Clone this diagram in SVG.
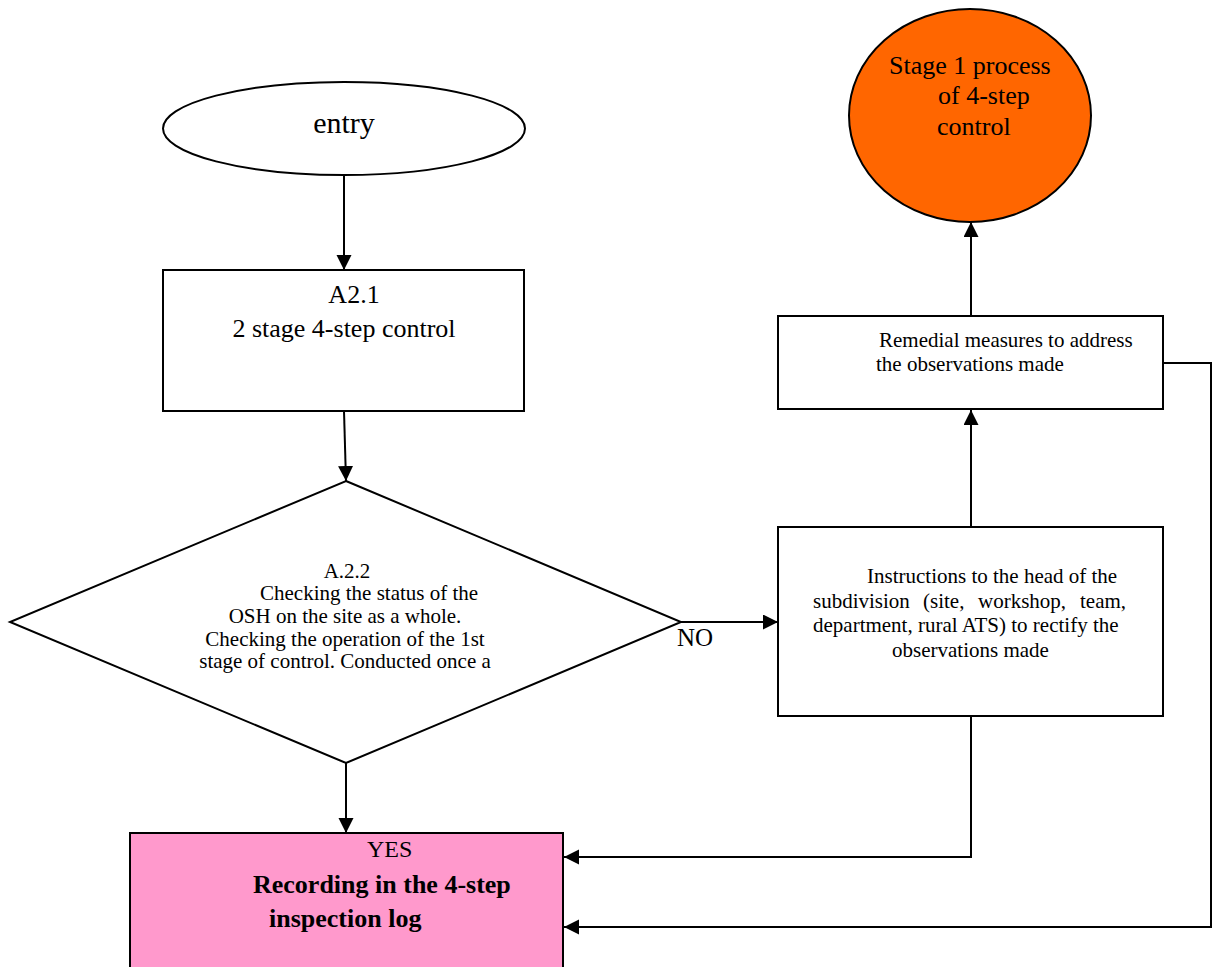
<svg xmlns="http://www.w3.org/2000/svg" width="1217" height="967" viewBox="0 0 1217 967">
<style>
.shape{stroke:#000;stroke-width:2;}
.line{fill:none;stroke:#000;stroke-width:2;}
text{fill:#000;}
.c{text-anchor:middle;}
</style>
<defs>
<marker id="ah" markerUnits="userSpaceOnUse" markerWidth="16" markerHeight="16" refX="15" refY="7.5" orient="auto">
<path d="M0,0 L15,7.5 L0,15 z" fill="#000"/>
</marker>
</defs>
<rect width="1217" height="967" fill="#fff"/>
<g font-family="'Liberation Serif', 'Times New Roman', 'DejaVu Serif', serif">
<g id="connectors">
<path class="line" d="M344,175 L344,270" marker-end="url(#ah)"/>
<path class="line" d="M344,411 L346,481" marker-end="url(#ah)"/>
<path class="line" d="M346,763 L346,833" marker-end="url(#ah)"/>
<path class="line" d="M681,622 L778,622" marker-end="url(#ah)"/>
<path class="line" d="M971,527 L971,410" marker-end="url(#ah)"/>
<path class="line" d="M971,316 L971,222" marker-end="url(#ah)"/>
<path class="line" d="M971,716 L971,857 L564,857" marker-end="url(#ah)"/>
<path class="line" d="M1163,363 L1211,363 L1211,927 L564,927" marker-end="url(#ah)"/>
<text x="677" y="646" font-size="25">NO</text>
</g>
<g id="entry">
<ellipse class="shape" cx="344" cy="128.5" rx="181" ry="46.5" fill="#fff"/>
<text class="c" x="344" y="133" font-size="30">entry</text>
</g>
<g id="a21">
<rect class="shape" x="163" y="270" width="361" height="141" fill="#fff"/>
<text class="c" x="354" y="303" font-size="26">A2.1</text>
<text class="c" x="344" y="337" font-size="26">2 stage 4-step control</text>
</g>
<g id="a22">
<polygon class="shape" points="346,481 681,622 346,763 10,622" fill="#fff"/>
<text class="c" x="347" y="578" font-size="21">A.2.2</text>
<text x="260" y="600" font-size="21">Checking the status of the</text>
<text class="c" x="345" y="623" font-size="21">OSH on the site as a whole.</text>
<text class="c" x="345" y="646" font-size="21">Checking the operation of the 1st</text>
<text class="c" x="345" y="668" font-size="21">stage of control. Conducted once a</text>
</g>
<g id="instructions">
<rect class="shape" x="778" y="527" width="385" height="189" fill="#fff"/>
<text x="867" y="583" font-size="21">Instructions to the head of the</text>
<text y="608" font-size="21"><tspan x="813">subdivision</tspan><tspan x="923">(site,</tspan><tspan x="978">workshop,</tspan><tspan x="1080">team,</tspan></text>
<text x="813" y="632" font-size="21">department, rural ATS) to rectify the</text>
<text x="892" y="657" font-size="21">observations made</text>
</g>
<g id="remedial">
<rect class="shape" x="778" y="316" width="385" height="93" fill="#fff"/>
<text x="879" y="347" font-size="21">Remedial measures to address</text>
<text x="876" y="371" font-size="21">the observations made</text>
</g>
<g id="stage1">
<ellipse class="shape" cx="970" cy="115.5" rx="121" ry="106.5" fill="#FF6600"/>
<text x="889" y="74" font-size="26">Stage 1 process</text>
<text x="938" y="104" font-size="26">of 4-step</text>
<text x="937" y="135" font-size="26">control</text>
</g>
<g id="record">
<rect class="shape" x="130" y="833" width="433" height="150" fill="#FF99CC"/>
<text x="367" y="857" font-size="24">YES</text>
<text x="253" y="893" font-size="26" font-weight="bold">Recording in the 4-step</text>
<text x="269" y="927" font-size="26" font-weight="bold">inspection log</text>
</g>
</g>
</svg>
